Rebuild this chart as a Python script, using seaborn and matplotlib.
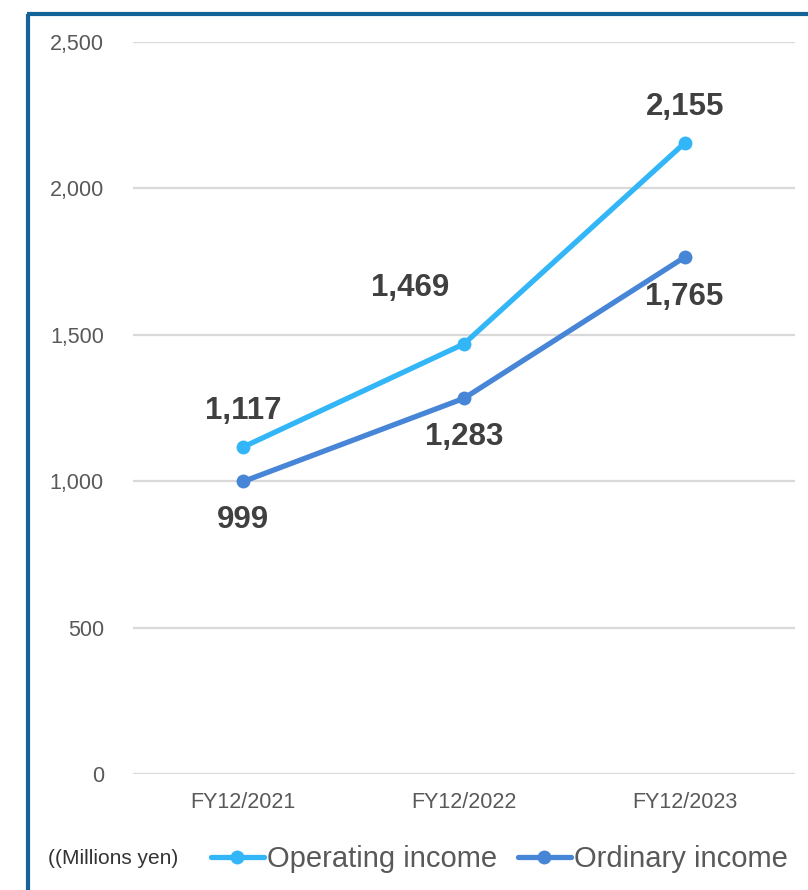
import matplotlib
matplotlib.use("Agg")
import matplotlib.pyplot as plt
from matplotlib.lines import Line2D
import seaborn as sns
import pandas as pd

# Data (millions of yen)
years = ["FY12/2021", "FY12/2022", "FY12/2023"]
operating_income = [1117, 1469, 2155]
ordinary_income = [999, 1283, 1765]
series_names = ["Operating income", "Ordinary income"]
y_ticks = [0, 500, 1000, 1500, 2000, 2500]
unit_label = "((Millions yen)"

colors = {"Operating income": "#33b6f7", "Ordinary income": "#4785d6"}

sns.set_theme(style="white")
plt.rcParams["font.family"] = ["Liberation Sans", "DejaVu Sans"]

df = pd.DataFrame({
    "year": years * 2,
    "value": operating_income + ordinary_income,
    "series": [series_names[0]] * 3 + [series_names[1]] * 3,
})
df["x"] = list(range(3)) * 2

W, H = 808, 890
fig = plt.figure(figsize=(W / 100, H / 100), dpi=100)
ax = fig.add_axes([133 / W, 1 - 774 / H, (795 - 133) / W, (774 - 42) / H])

sns.lineplot(data=df, x="x", y="value", hue="series", palette=colors,
             marker="o", markersize=10, markeredgewidth=0, linewidth=3.8,
             ax=ax, legend=False, sort=False)

ax.set_xlim(-0.5, 2.5)
ax.set_ylim(0, 2500)
ax.set_yticks(y_ticks)
ax.set_yticklabels([f"{v:,}" for v in y_ticks])
ax.set_xticks(range(3))
ax.set_xticklabels(years)
ax.set_xlabel("")
ax.set_ylabel("")
ax.tick_params(axis="y", length=0, pad=21, labelsize=15.5, labelcolor="#595959")
ax.tick_params(axis="x", length=0, pad=13, labelsize=15.5, labelcolor="#595959")
ax.grid(axis="y", color="#d9d9d9", linewidth=1.6)
ax.grid(axis="x", visible=False)
ax.set_axisbelow(True)
for s in ax.spines.values():
    s.set_visible(False)

# Value labels: offsets in points relative to each marker
op_offsets = [(0, 26), (-39, 40), (0, 26)]
ord_offsets = [(0, -28), (0, -28), (0, -29)]
for i, v in enumerate(operating_income):
    ax.annotate(f"{v:,}", (i, v), xytext=op_offsets[i], textcoords="offset points",
                ha="center", va="center", fontsize=22.5, fontweight="bold", color="#404040")
for i, v in enumerate(ordinary_income):
    ax.annotate(f"{v:,}", (i, v), xytext=ord_offsets[i], textcoords="offset points",
                ha="center", va="center", fontsize=22.5, fontweight="bold", color="#404040")

# Legend along the bottom
handles = [Line2D([0], [0], color=colors[n], lw=3.8, marker="o", markersize=10,
                  markeredgewidth=0) for n in series_names]
leg = fig.legend(handles, series_names, loc="center left",
                 bbox_to_anchor=(211 / W, 1 - 859 / H), ncol=2, frameon=False,
                 fontsize=21, handlelength=1.8, handletextpad=0.12,
                 columnspacing=0.72, borderaxespad=0, borderpad=0)
for t in leg.get_texts():
    t.set_color("#595959")
fig.text(48 / W, 1 - 859 / H, unit_label, fontsize=15, color="#333333",
         ha="left", va="center")

# Frame around the panel
fig.add_artist(Line2D([28 / W, 28 / W], [0, 1 - 13.5 / H], color="#14649a",
                      lw=3, transform=fig.transFigure, solid_capstyle="butt"))
fig.add_artist(Line2D([26.5 / W, 1], [1 - 13.5 / H, 1 - 13.5 / H], color="#14649a",
                      lw=3, transform=fig.transFigure, solid_capstyle="butt"))

fig.savefig("out.png", dpi=100, facecolor="white")
